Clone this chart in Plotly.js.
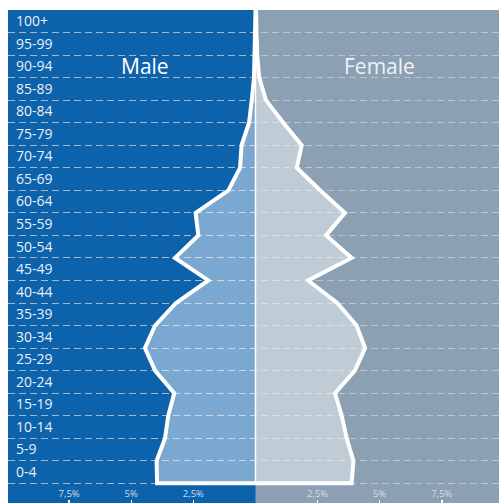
<!DOCTYPE html>
<html>
<head>
<meta charset="utf-8">
<script src="https://cdn.plot.ly/plotly-3.0.1.min.js"></script>
<style>html,body{margin:0;padding:0;background:#fff;}#chart{width:499px;height:503px;}</style>
</head>
<body>
<div id="chart"></div>
<script>
// Age groups (bottom to top)
const ageGroups = ["0-4","5-9","10-14","15-19","20-24","25-29","30-34","35-39","40-44","45-49",
  "50-54","55-59","60-64","65-69","70-74","75-79","80-84","85-89","90-94","95-99","100+"];
// Outline values (%) read at each band edge, bottom edge of 0-4 up to top edge of 100+
const maleEdges = [3.96,3.98,3.64,3.51,3.27,4.04,4.45,4.04,3.20,1.90,3.24,2.30,2.41,1.09,0.62,0.56,0.26,0.15,0.06,0.02,0.01,0.0];
const femaleEdges = [3.87,3.94,3.67,3.47,3.20,4.00,4.41,4.07,3.29,2.12,3.87,2.84,3.60,2.60,1.66,1.86,1.12,0.42,0.15,0.07,0.04,0.02];
const xTickVals = [-7.5,-5,-2.5,2.5,5,7.5];
const xTickText = ["7,5%","5%","2,5%","2,5%","5%","7,5%"];
const sexLabels = ["Male","Female"];

const edgeY = maleEdges.map((_, i) => i);
const outlineX = maleEdges.map(v => -v).reverse().concat(femaleEdges);
const outlineY = edgeY.slice().reverse().concat(edgeY);
const nRows = ageGroups.length;

const traces = [{
  type: 'scatter', mode: 'lines',
  x: outlineX, y: outlineY,
  fill: 'toself', fillcolor: 'rgba(255,255,255,0.45)',
  line: {color: '#ffffff', width: 4},
  hoverinfo: 'skip', showlegend: false
}];

const xMin = -9.96, xMax = 9.8;
const layout = {
  width: 499, height: 503,
  margin: {l: 8, r: 0, t: 10, b: 0, pad: 0},
  paper_bgcolor: '#ffffff',
  plot_bgcolor: '#8ba0b2',
  showlegend: false,
  font: {family: 'Open Sans, sans-serif', color: '#ffffff'},
  xaxis: {
    range: [xMin, xMax], fixedrange: true,
    side: 'top', anchor: 'free', position: 0.008,
    showgrid: false, zeroline: false, showline: false,
    tickmode: 'array', tickvals: xTickVals, ticktext: xTickText,
    ticks: 'inside', ticklen: 6, tickwidth: 1.5, tickcolor: '#ffffff',
    tickfont: {size: 9.5, color: '#d5dde8', family: 'Open Sans, sans-serif'}
  },
  yaxis: {
    range: [-0.874, nRows], fixedrange: true,
    zeroline: false, showline: false,
    tickmode: 'array', tickvals: ageGroups.map((_, i) => i + 0.5), ticktext: ageGroups,
    ticklabelposition: 'inside', ticks: '', showgrid: false,
    ticklabelstandoff: 5,
    tickfont: {size: 14, color: '#eaf0f7', family: 'Open Sans, sans-serif'},
    minor: {tickmode: 'array', tickvals: edgeY.slice(0, nRows), showgrid: true,
            gridcolor: 'rgba(205,205,205,0.8)', gridwidth: 1, griddash: '7px,4px', ticks: ''}
  },
  shapes: [
    {type: 'rect', layer: 'below', xref: 'x', yref: 'paper', x0: xMin, x1: 0, y0: 0, y1: 1,
     fillcolor: '#0d62ac', line: {width: 0}},
    {type: 'line', layer: 'above', xref: 'x', yref: 'y', x0: 0, x1: 0, y0: 0, y1: nRows,
     line: {color: '#ffffff', width: 1.5}}
  ],
  annotations: [
    {xref: 'x', yref: 'y', x: -4.45, y: 18.5, text: sexLabels[0], showarrow: false,
     font: {size: 21, color: '#ffffff', family: 'Open Sans, sans-serif'}},
    {xref: 'x', yref: 'y', x: 5.0, y: 18.5, text: sexLabels[1], showarrow: false,
     font: {size: 21, color: '#eef2f5', family: 'Open Sans, sans-serif'}}
  ]
};

Plotly.newPlot('chart', traces, layout, {displayModeBar: false, staticPlot: true});
</script>
</body>
</html>
